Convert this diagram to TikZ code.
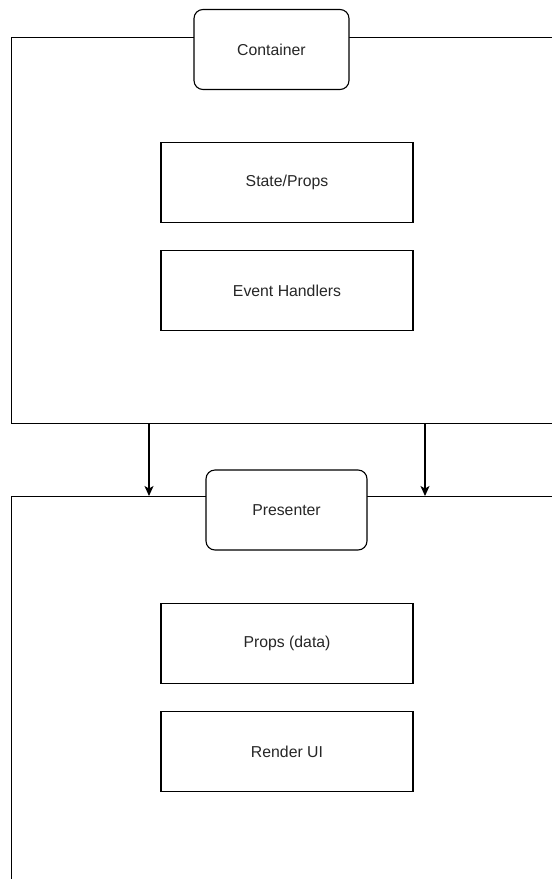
\documentclass[tikz,border=0pt]{standalone}
\usepackage{fontspec}
\setmainfont{Liberation Sans}
\usetikzlibrary{positioning,arrows.meta}

\begin{document}
\begin{tikzpicture}[x=1pt, y=-1pt, line width=1.1pt, font=\fontsize{15.8}{18}\selectfont,
    frame/.style={draw, rectangle, anchor=north west, minimum width=560pt},
    title/.style={draw, rectangle, rounded corners=9pt, fill=white, minimum width=155pt, minimum height=80pt, text=black!85},
    part/.style={draw, rectangle, minimum width=252pt, minimum height=80pt, text=black!85},
    arr/.style={-{Stealth[length=10pt, width=9pt, inset=2.5pt]}}]
    \path[use as bounding box, clip] (0,0) rectangle (552,879);

    % container block
    \node[frame, minimum height=386pt] (cframe) at (11,37) {};
    \node[title] (ctitle) at (271.5,49.5) {Container};
    \node[part] (state) at (287,182.5) {State/Props};
    \node[part, below=27pt of state] (events) {Event Handlers};

    % presenter block
    \node[frame, minimum height=420pt] (pframe) at (11,496) {};
    \node[title, minimum width=161pt] (ptitle) at (286.5,510) {Presenter};
    \node[part] (props) at (287,643.5) {Props (data)};
    \node[part, below=27pt of props] (render) {Render UI};

    \draw[arr] (cframe.south -| 149,0) -- (pframe.north -| 149,0);
    \draw[arr] (cframe.south -| 425,0) -- (pframe.north -| 425,0);
\end{tikzpicture}
\end{document}
